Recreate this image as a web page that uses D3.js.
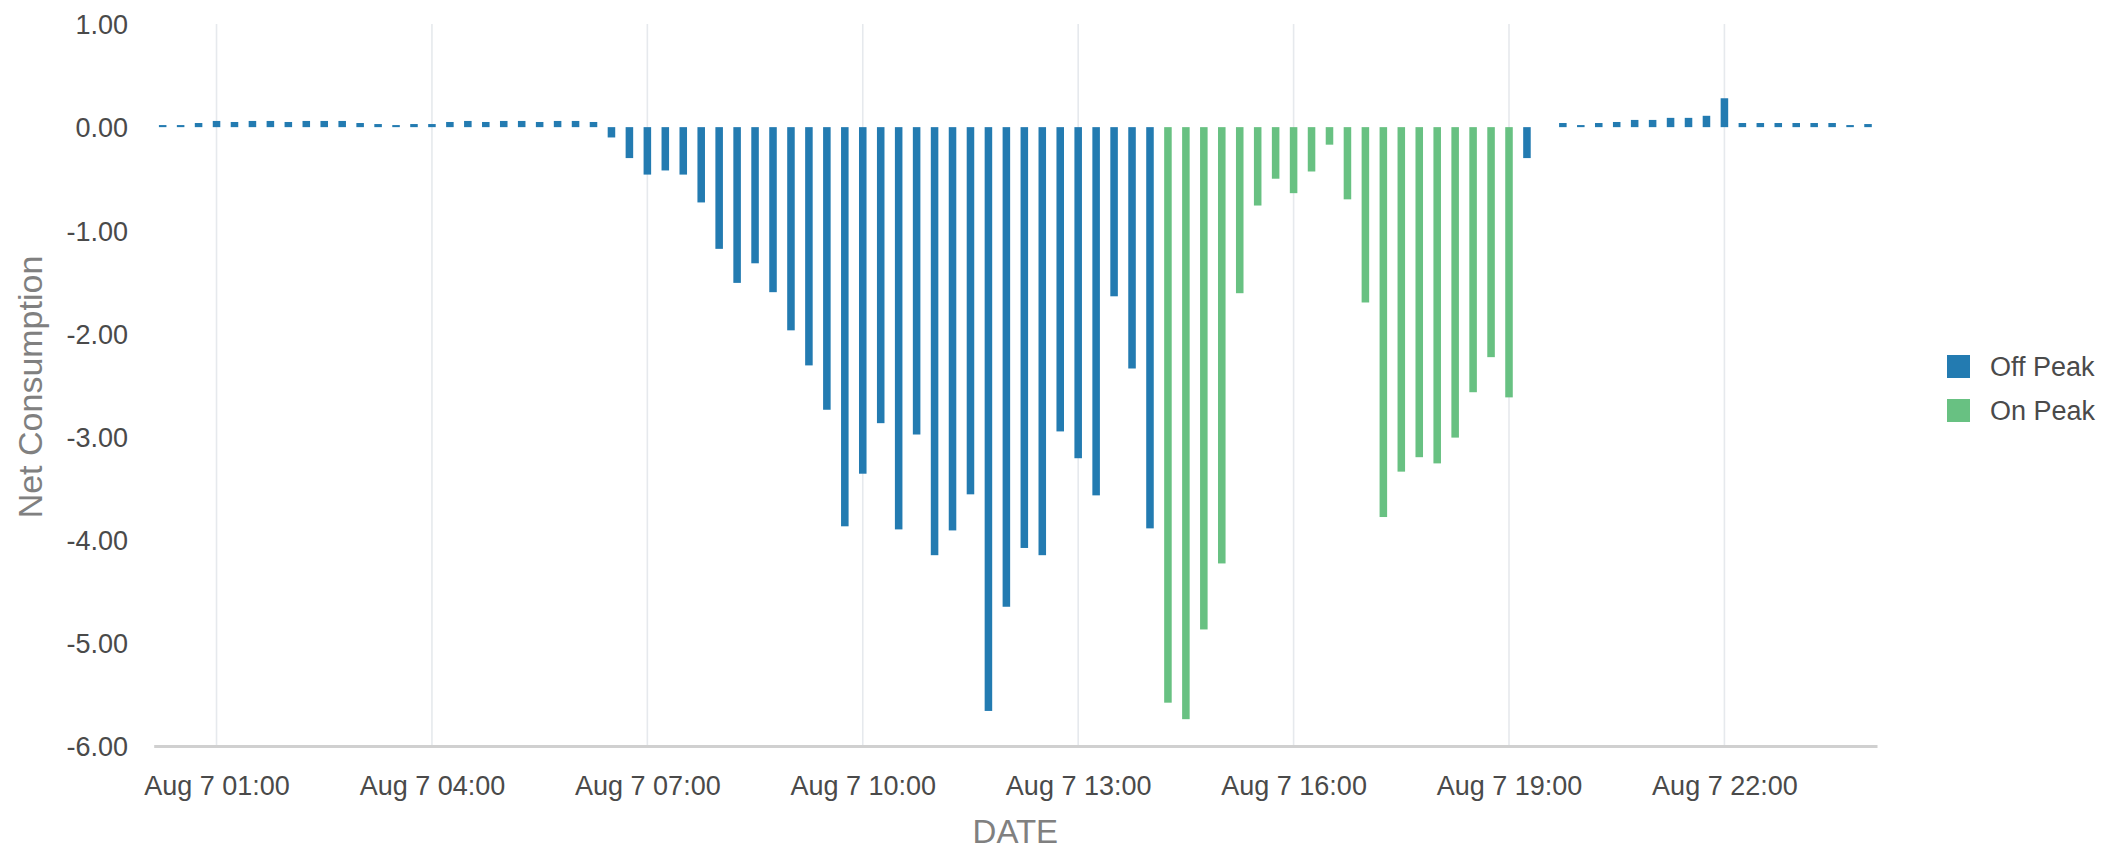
<!DOCTYPE html>
<html>
<head>
<meta charset="utf-8">
<script src="https://cdn.jsdelivr.net/npm/d3@7/dist/d3.min.js"></script>
<style>
  html, body { margin: 0; padding: 0; background: #ffffff; }
  svg { display: block; }
  text { font-family: "Liberation Sans", Arial, Helvetica, sans-serif; }
</style>
</head>
<body>
<svg id="chart" width="2113" height="853"></svg>
<script>
// 15-minute interval end times for Aug 7 (00:15 ... 24:00), as minutes after midnight
const intervalMinutes = d3.range(15, 24 * 60 + 1, 15);

// Net consumption per interval, off-peak hours (null where the interval is on-peak)
const offPeak = [
  0.02, 0.02, 0.04, 0.06, 0.05, 0.06, 0.06, 0.05, 0.06, 0.06, 0.06, 0.04,   // 00:15 - 03:00
  0.03, 0.02, 0.03, 0.03, 0.05, 0.06, 0.05, 0.06, 0.06, 0.05, 0.06, 0.06,   // 03:15 - 06:00
  0.05, -0.10, -0.30, -0.46, -0.42, -0.46, -0.73, -1.18, -1.51, -1.32, -1.60, -1.97, // 06:15 - 09:00
  -2.31, -2.74, -3.87, -3.36, -2.87, -3.90, -2.98, -4.15, -3.91, -3.56, -5.66, -4.65, // 09:15 - 12:00
  -4.08, -4.15, -2.95, -3.21, -3.57, -1.64, -2.34, -3.89,                    // 12:15 - 14:00
  null, null, null, null, null, null, null, null, null, null,               // 14:15 - 16:30
  null, null, null, null, null, null, null, null, null, null,               // 16:45 - 19:00
  -0.30, null, 0.04, 0.02, 0.04, 0.05, 0.07, 0.07, 0.09, 0.09,              // 19:15 - 21:30
  0.11, 0.28, 0.04, 0.04, 0.04, 0.04, 0.04, 0.04, 0.02, 0.03                // 21:45 - 24:00
];

// Net consumption per interval, on-peak hours (14:15 - 19:00)
const onPeak = [
  null, null, null, null, null, null, null, null, null, null, null, null,
  null, null, null, null, null, null, null, null, null, null, null, null,
  null, null, null, null, null, null, null, null, null, null, null, null,
  null, null, null, null, null, null, null, null, null, null, null, null,
  null, null, null, null, null, null, null, null,
  -5.58, -5.74, -4.87, -4.23, -1.61, -0.76, -0.50, -0.64, -0.43, -0.17,     // 14:15 - 16:30
  -0.70, -1.70, -3.78, -3.34, -3.20, -3.26, -3.01, -2.57, -2.23, -2.62,     // 16:45 - 19:00
  null, null, null, null, null, null, null, null, null, null,
  null, null, null, null, null, null, null, null, null, null
];

const seriesNames = ["Off Peak", "On Peak"];
const seriesColors = ["#237BB1", "#68C182"];

const xTickHours = [1, 4, 7, 10, 13, 16, 19, 22];
const xTickLabels = ["Aug 7 01:00", "Aug 7 04:00", "Aug 7 07:00", "Aug 7 10:00",
                     "Aug 7 13:00", "Aug 7 16:00", "Aug 7 19:00", "Aug 7 22:00"];
const yTickValues = [1, 0, -1, -2, -3, -4, -5, -6];
const yTickLabels = ["1.00", "0.00", "-1.00", "-2.00", "-3.00", "-4.00", "-5.00", "-6.00"];

const day = new Date(2000, 7, 7, 0, 0, 0);
const atMinute = m => new Date(day.getTime() + m * 60000);

const svg = d3.select("#chart");

const plot = { left: 153.7, right: 1877, top: 24, bottom: 746 };

const x = d3.scaleTime()
  .domain([atMinute(7.5), atMinute(24 * 60 + 7.5)])
  .range([plot.left, plot.right]);

const y = d3.scaleLinear()
  .domain([-6, 1])
  .range([plot.bottom, plot.top]);

// vertical grid lines at the labelled hours
svg.append("g")
  .selectAll("line")
  .data(xTickHours)
  .join("line")
  .attr("x1", h => x(atMinute(h * 60)))
  .attr("x2", h => x(atMinute(h * 60)))
  .attr("y1", y(1))
  .attr("y2", y(-6))
  .attr("stroke", "#e6e9ed")
  .attr("stroke-width", 1.6);

// bars
const step = x(atMinute(30)) - x(atMinute(15));
const barWidth = step * 0.42;

const rows = [];
intervalMinutes.forEach((m, i) => {
  if (offPeak[i] !== null) rows.push({ m, v: offPeak[i], s: 0 });
  if (onPeak[i] !== null) rows.push({ m, v: onPeak[i], s: 1 });
});

svg.append("g")
  .selectAll("rect")
  .data(rows)
  .join("rect")
  .attr("x", d => x(atMinute(d.m)) - barWidth / 2)
  .attr("width", barWidth)
  .attr("y", d => Math.min(y(d.v), y(0)))
  .attr("height", d => Math.abs(y(d.v) - y(0)))
  .attr("fill", d => seriesColors[d.s]);

// x axis
const xAxis = d3.axisBottom(x)
  .tickValues(xTickHours.map(h => atMinute(h * 60)))
  .tickFormat((d, i) => xTickLabels[i])
  .tickSize(0)
  .tickPadding(0);

const gx = svg.append("g")
  .attr("transform", `translate(0,${plot.bottom})`)
  .call(xAxis);
gx.select(".domain")
  .attr("stroke", "#d0d0d0")
  .attr("stroke-width", 3);
gx.selectAll("text")
  .attr("y", 49)
  .attr("dy", null)
  .attr("fill", "#4a4a4a")
  .style("font-size", "27px")
  .style("font-family", "'Liberation Sans', Arial, sans-serif");

// y axis (labels only)
const yAxis = d3.axisLeft(y)
  .tickValues(yTickValues)
  .tickFormat((d, i) => yTickLabels[i])
  .tickSize(0)
  .tickPadding(0);

const gy = svg.append("g")
  .attr("transform", `translate(128,0)`)
  .call(yAxis);
gy.select(".domain").remove();
gy.selectAll("text")
  .attr("fill", "#4a4a4a")
  .attr("dy", "0.36em")
  .style("font-size", "27px")
  .style("font-family", "'Liberation Sans', Arial, sans-serif");

// axis titles
svg.append("text")
  .attr("x", (plot.left + plot.right) / 2)
  .attr("y", 843)
  .attr("text-anchor", "middle")
  .attr("fill", "#808080")
  .style("font-size", "33px")
  .text("DATE");

svg.append("text")
  .attr("transform", `translate(42,${(plot.top + plot.bottom) / 2 + 2}) rotate(-90)`)
  .attr("text-anchor", "middle")
  .attr("fill", "#808080")
  .style("font-size", "34px")
  .text("Net Consumption");

// legend
const legend = svg.append("g")
  .selectAll("g")
  .data(seriesNames)
  .join("g")
  .attr("transform", (d, i) => `translate(1947,${355 + i * 44})`);

legend.append("rect")
  .attr("width", 23)
  .attr("height", 23)
  .attr("fill", (d, i) => seriesColors[i]);

legend.append("text")
  .attr("x", 43)
  .attr("y", 11.5)
  .attr("dy", "0.36em")
  .attr("fill", "#4a4a4a")
  .style("font-size", "27px")
  .text(d => d);
</script>
</body>
</html>
